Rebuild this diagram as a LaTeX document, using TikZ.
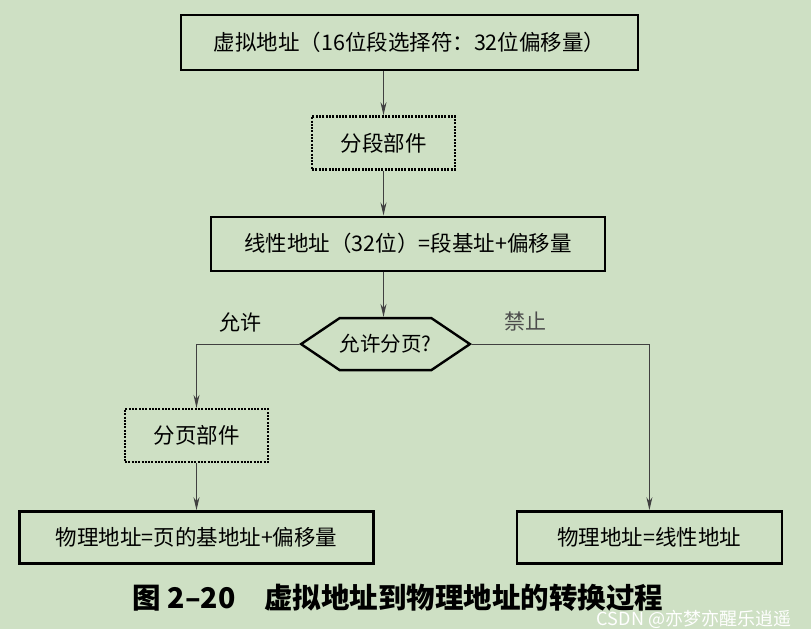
\documentclass[tikz,border=0pt]{standalone}
\usepackage{fontspec}
\setmainfont{Noto Sans CJK SC}
\usepackage{xcolor}
\usetikzlibrary{arrows.meta,positioning,shapes.symbols}
\definecolor{paper}{RGB}{206,224,196}

\begin{document}
\begin{tikzpicture}[
  x=1pt, y=-1pt,
  box/.style={draw=black, line width=2.4pt, align=center, inner sep=0pt, font=\fontsize{21.5}{25}\selectfont},
  unit/.style={draw=black, line width=2.3pt, dash pattern=on 2pt off 1.3pt, minimum width=143pt, minimum height=53pt, inner sep=0pt, font=\fontsize{21.5}{25}\selectfont},
  ask/.style={signal, signal to=west and east, signal pointer angle=68, draw=black, line width=2.4pt, minimum width=167pt, minimum height=52pt, inner sep=0pt, font=\fontsize{20.5}{24}\selectfont},
  lbl/.style={font=\fontsize{21}{25}\selectfont},
  arrow/.style={-{Stealth[length=13pt,width=6pt]}, line width=1.1pt, draw=black!75}
]
\fill[paper] (0,0) rectangle (811,629);
\useasboundingbox (0,0) rectangle (811,629);

\node[box, minimum width=457pt, minimum height=55pt] (virt) at (409.5,42.5) {虚拟地址（16位段选择符：32位偏移量）};
\node[unit, below=44pt of virt, xshift=-26pt] (seg) {分段部件};
\node[box, below=45pt of seg, xshift=24.5pt, minimum width=394pt, minimum height=54pt] (lin) {线性地址（32位）=段基址+偏移量};
\node[ask, below=45pt of lin, xshift=-22.5pt] (page) {允许分页?};
\node[unit] (pgu) at (196.5,435.5) {分页部件};
\node[box, below=47pt of pgu, minimum width=354pt, minimum height=52pt] (phys) {物理地址=页的基地址+偏移量};
\node[box, right=141pt of phys, minimum width=265pt, minimum height=52pt] (same) {物理地址=线性地址};

\node[lbl] (yes) at (240,322) {允许};
\node[lbl, text=black!70] (no) at (525,322) {禁止};

\node[font=\bfseries\fontsize{28.5}{32}\selectfont] (cap) at (398,598) {图 2–20\hspace{1em}虚拟地址到物理地址的转换过程};
\node[font=\fontsize{18}{21}\selectfont, text=white] (mark) at (694,619) {CSDN @亦梦亦醒乐逍遥};

\draw[arrow] (virt.south -| seg.north) -- (seg);
\draw[arrow] (seg) -- (seg |- lin.north);
\draw[arrow] (lin.south -| seg.south) -- (seg |- page.north);
\draw[arrow] (page.west) -| (pgu.north);
\draw[arrow] (pgu) -- (pgu |- phys.north);
\draw[arrow] (page.east) -| (same.north);
\end{tikzpicture}
\end{document}
